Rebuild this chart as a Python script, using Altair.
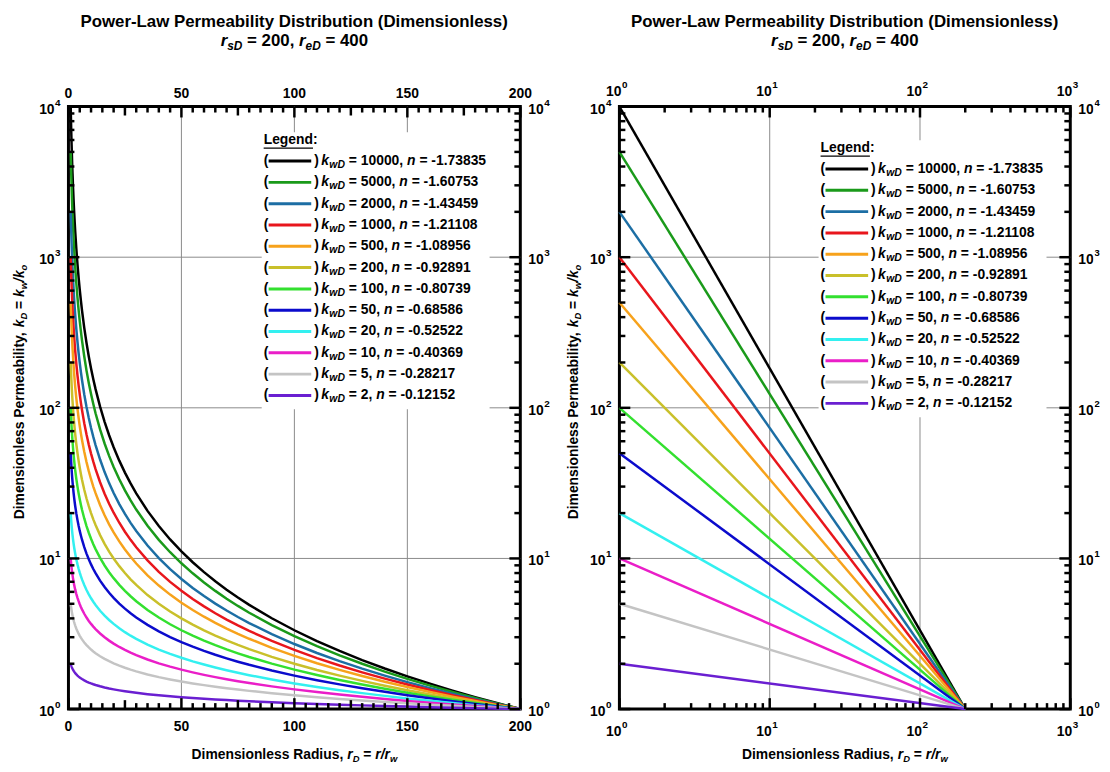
import altair as alt
import pandas as pd
import math

FONT = "Liberation Sans"

# ---------------- data ----------------
r_sd = 200
r_ed = 400
k_wd = [10000, 5000, 2000, 1000, 500, 200, 100, 50, 20, 10, 5, 2]
n_text = ["-1.73835", "-1.60753", "-1.43459", "-1.21108", "-1.08956", "-0.92891",
          "-0.80739", "-0.68586", "-0.52522", "-0.40369", "-0.28217", "-0.12152"]
line_colors = ["#000000", "#1a9a1a", "#1c6ea4", "#e8161c", "#f7a21b", "#c9c02a",
               "#33e02f", "#0b0bcc", "#33f0f0", "#ea1ec8", "#c4c4c4", "#6a1fd1"]
# sampled radii for the linear-x panel
r_left = [1, 1.02, 1.05, 1.1, 1.15, 1.2, 1.3, 1.4, 1.5, 1.65, 1.8, 2, 2.25, 2.5, 2.75, 3,
          3.5, 4, 4.5, 5, 5.5, 6, 7, 8, 9, 10, 11, 12, 14, 16, 18, 20, 22.5, 25, 27.5, 30,
          35, 40, 45, 50, 55, 60, 65, 70, 75, 80, 90, 100, 110, 120, 130, 140, 150, 160,
          170, 180, 190, 200]
# endpoints of every series (r=1 -> k_wD, r=r_sD -> 1)
r_right = [1, r_sd]

x_lin_labels = [0, 50, 100, 150, 200]
x_lin_mid = [25, 75, 125, 175]
x_lin_minor = [v for v in range(5, 200, 5) if v % 25]
grid_x_left = [50, 100, 150]
grid_x_right = [10, 100]
grid_y = [10, 100, 1000]
y_exponents = [0, 1, 2, 3, 4]
x_exponents = [0, 1, 2, 3]
minor_mult = [2, 3, 4, 5, 6, 7, 8, 9]

series = [str(k) for k in k_wd]
color_scale = alt.Scale(domain=series, range=line_colors)

W1, W2, H = 456, 455, 608
LFS = 14      # legend font size
LSFS = 10.5   # legend subscript size
TFS = 14      # "10" tick label size
EFS = 10      # exponent size
AFS = 14      # axis title size
ASFS = 9.5    # axis title subscript size

# Arial/Liberation Sans Bold advance widths (em)
CW = {' ': .278, ',': .278, '.': .278, '=': .584, '-': .333, '/': .278, '(': .333, ')': .333,
      ':': .333, 'a': .556, 'b': .611, 'c': .556, 'd': .611, 'e': .556, 'f': .333, 'g': .611,
      'h': .611, 'i': .278, 'k': .556, 'l': .278, 'm': .889, 'n': .611, 'o': .611, 'p': .611,
      'r': .389, 's': .556, 't': .333, 'u': .611, 'w': .778, 'y': .556, 'D': .722, 'L': .611,
      'P': .667, 'R': .722}
for d in "0123456789":
    CW[d] = .556


def tw(s, fs):
    return sum(CW.get(c, .556) for c in s) * fs


def compose(segs, cx, cy, rotated=False, anchor="center"):
    total = sum(tw(t, fs) for t, fs, it, dy in segs)
    items = []
    off = 0.0
    for t, fs, it, dy in segs:
        lead = len(t) - len(t.lstrip(' '))
        shown = t.strip(' ')
        o = off + lead * CW[' '] * fs
        start = -total / 2 if anchor == "center" else 0
        if rotated:
            items.append(dict(px=cx + dy, py=cy - start - o, text=shown, fs=fs,
                              italic=it, align="left", angle=270))
        else:
            items.append(dict(px=cx + start + o, py=cy + dy, text=shown, fs=fs,
                              italic=it, align="left", angle=0))
        off += tw(t, fs)
    return items


def ident_x(W):
    return alt.Scale(domain=[0, W], nice=False, zero=False)


def ident_y():
    return alt.Scale(domain=[0, H], nice=False, zero=False)


def text_layers(items, W):
    df = pd.DataFrame(items)
    df["pyf"] = H - df["py"]
    df["text"] = df["text"].astype(str)
    layers = []
    for (italic, align), sub in df.groupby(["italic", "align"]):
        layers.append(
            alt.Chart(sub).mark_text(font=FONT, fontWeight="bold",
                                     fontStyle="italic" if italic else "normal",
                                     align=align, baseline="middle", color="black")
            .encode(x=alt.X("px:Q", scale=ident_x(W), axis=None),
                    y=alt.Y("pyf:Q", scale=ident_y(), axis=None),
                    text="text:N",
                    size=alt.Size("fs:Q", scale=None),
                    angle=alt.Angle("angle:Q", scale=None)))
    return layers


def vticks(vals, sx, length):
    df = pd.DataFrame({"v": vals})
    base = alt.Chart(df).mark_rule(color="black", strokeWidth=2.5)
    return [base.encode(x=alt.X("v:Q", scale=sx, axis=None), y=alt.value(H), y2=alt.value(H - length)),
            base.encode(x=alt.X("v:Q", scale=sx, axis=None), y=alt.value(0), y2=alt.value(length))]


def hticks(vals, sy, length, W):
    df = pd.DataFrame({"v": vals})
    base = alt.Chart(df).mark_rule(color="black", strokeWidth=2.5)
    return [base.encode(y=alt.Y("v:Q", scale=sy, axis=None), x=alt.value(0), x2=alt.value(length)),
            base.encode(y=alt.Y("v:Q", scale=sy, axis=None), x=alt.value(W), x2=alt.value(W - length))]


def legend_parts(x0, r0, W):
    items = []
    dy = 21.5
    items += compose([("Legend", LFS, False, 0), (":", LFS, False, 0)], x0, r0 - dy, anchor="left")
    rows = []
    for i, (k, n) in enumerate(zip(k_wd, n_text)):
        y = r0 + i * dy
        items.append(dict(px=x0, py=y, text="(", fs=LFS, italic=False, align="left", angle=0))
        items.append(dict(px=x0 + 51, py=y, text=")", fs=LFS, italic=False, align="left", angle=0))
        xk = x0 + 58
        items.append(dict(px=xk, py=y, text="k", fs=LFS, italic=True, align="left", angle=0))
        xs = xk + tw("k", LFS) + 0.5
        items.append(dict(px=xs, py=y + 4, text="wD", fs=LSFS, italic=True, align="left", angle=0))
        xb = xs + tw("wD", LSFS)
        items.append(dict(px=xb + tw(" ", LFS), py=y, text=f"= {k},", fs=LFS, italic=False, align="left", angle=0))
        xn = xb + tw(f" = {k}, ", LFS)
        items.append(dict(px=xn, py=y, text="n", fs=LFS, italic=True, align="left", angle=0))
        items.append(dict(px=xn + tw("n ", LFS), py=y, text=f"= {n}", fs=LFS, italic=False, align="left", angle=0))
        rows.append(dict(a=x0 + 5, b=x0 + 48, pyf=H - y, series=str(k)))
    last = r0 + (len(k_wd) - 1) * dy
    box = alt.Chart(pd.DataFrame({"d": [0]})).mark_rect(fill="white").encode(
        x=alt.value(x0 - 2), x2=alt.value(x0 + 228), y=alt.value(r0 - 29), y2=alt.value(last + 14))
    under = alt.Chart(pd.DataFrame({"d": [0]})).mark_rule(color="black", strokeWidth=1.3).encode(
        x=alt.value(x0), x2=alt.value(x0 + tw("Legend", LFS)), y=alt.value(r0 - dy + 8.5))
    samples = alt.Chart(pd.DataFrame(rows)).mark_rule(strokeWidth=3).encode(
        x=alt.X("a:Q", scale=ident_x(W), axis=None), x2="b:Q",
        y=alt.Y("pyf:Q", scale=ident_y(), axis=None),
        color=alt.Color("series:N", scale=color_scale, legend=None))
    return box, [under, samples], items


def common_texts(W, cx_ytitle):
    items = []
    items += compose([("Power-Law Permeability Distribution (Dimensionless)", 17, False, 0)], W / 2, -85)
    items += compose([("r", 17, True, 0), ("sD", 12, True, 5), (f" = {r_sd}, ", 17, False, 0),
                      ("r", 17, True, 0), ("eD", 12, True, 5), (f" = {r_ed}", 17, False, 0)], W / 2, -66)
    items += compose([("Dimensionless Radius, ", AFS, False, 0), ("r", AFS, True, 0), ("D", ASFS, True, 4),
                      (" = ", AFS, False, 0), ("r/r", AFS, True, 0), ("w", ASFS, True, 4)], W / 2, 654)
    items += compose([("Dimensionless Permeability, ", AFS, False, 0), ("k", AFS, True, 0), ("D", ASFS, True, 4),
                      (" = ", AFS, False, 0), ("k", AFS, True, 0), ("w", ASFS, True, 4), ("/", AFS, True, 0),
                      ("k", AFS, True, 0), ("o", ASFS, True, 4)], cx_ytitle, 288, rotated=True)
    # y tick labels (both sides)
    for e in y_exponents:
        yp = H - e / 4 * H
        items.append(dict(px=-14, py=yp + 3, text="10", fs=TFS, italic=False, align="right", angle=0))
        items.append(dict(px=-13.5, py=yp - 4, text=str(e), fs=EFS, italic=False, align="left", angle=0))
        items.append(dict(px=W + 8, py=yp + 3, text="10", fs=TFS, italic=False, align="left", angle=0))
        items.append(dict(px=W + 8.5 + tw("10", TFS), py=yp - 4, text=str(e), fs=EFS, italic=False, align="left", angle=0))
    return items


def marker(xpos):
    return alt.Chart(pd.DataFrame({"d": [0]})).mark_rule(color="white", strokeWidth=1).encode(
        x=alt.value(xpos), y=alt.value(-93), y2=alt.value(H + 55))


sy = alt.Scale(type="log", domain=[1, 10000], nice=False)
y_minor = [m * 10 ** e for e in range(4) for m in minor_mult]

# ---------------- left panel (linear x) ----------------
sx1 = alt.Scale(type="linear", domain=[0, 200], nice=False, zero=False)
rows = []
for k in k_wd:
    n_fit = -math.log(k) / math.log(r_sd)
    for r in r_left:
        rows.append(dict(series=str(k), r=r, k=k * r ** n_fit))
df_left = pd.DataFrame(rows)

grid1 = [
    alt.Chart(pd.DataFrame({"v": grid_x_left})).mark_rule(color="#8a8a8a", strokeWidth=1).encode(
        x=alt.X("v:Q", scale=sx1, axis=None), y=alt.value(0), y2=alt.value(H)),
    alt.Chart(pd.DataFrame({"v": grid_y})).mark_rule(color="#8a8a8a", strokeWidth=1).encode(
        y=alt.Y("v:Q", scale=sy, axis=None), x=alt.value(0), x2=alt.value(W1)),
]
box1, leg1, leg_items1 = legend_parts(197, 55, W1)
curves1 = alt.Chart(df_left).mark_line(strokeWidth=2.5).encode(
    x=alt.X("r:Q", scale=sx1, axis=None), y=alt.Y("k:Q", scale=sy, axis=None),
    color=alt.Color("series:N", scale=color_scale, legend=None),
    order=alt.Order("r:Q"))
ticks1 = (vticks(x_lin_labels, sx1, 11) + vticks(x_lin_mid, sx1, 9) + vticks(x_lin_minor, sx1, 6)
          + hticks([10 ** e for e in y_exponents], sy, 11, W1) + hticks(y_minor, sy, 6, W1))
items1 = common_texts(W1, -49) + leg_items1
for v in x_lin_labels:
    xp = v / 200 * W1
    items1.append(dict(px=xp, py=626, text=str(v), fs=14, italic=False, align="center", angle=0))
    items1.append(dict(px=xp, py=-13, text=str(v), fs=14, italic=False, align="center", angle=0))

left = alt.layer(*grid1, box1, curves1, *ticks1, *leg1, *text_layers(items1, W1), marker(-59)).properties(
    width=W1, height=H).resolve_scale(x="independent", y="independent")

# ---------------- right panel (log x) ----------------
sx2 = alt.Scale(type="log", domain=[1, 1000], nice=False)
rows = []
for k in k_wd:
    rows.append(dict(series=str(k), r=r_right[0], k=k))
    rows.append(dict(series=str(k), r=r_right[1], k=1))
df_right = pd.DataFrame(rows)
x_minor = [m * 10 ** e for e in range(3) for m in minor_mult]

grid2 = [
    alt.Chart(pd.DataFrame({"v": grid_x_right})).mark_rule(color="#8a8a8a", strokeWidth=1).encode(
        x=alt.X("v:Q", scale=sx2, axis=None), y=alt.value(0), y2=alt.value(H)),
    alt.Chart(pd.DataFrame({"v": grid_y})).mark_rule(color="#8a8a8a", strokeWidth=1).encode(
        y=alt.Y("v:Q", scale=sy, axis=None), x=alt.value(0), x2=alt.value(W2)),
]
box2, leg2, leg_items2 = legend_parts(203, 63, W2)
curves2 = alt.Chart(df_right).mark_line(strokeWidth=2.5).encode(
    x=alt.X("r:Q", scale=sx2, axis=None), y=alt.Y("k:Q", scale=sy, axis=None),
    color=alt.Color("series:N", scale=color_scale, legend=None),
    order=alt.Order("r:Q"))
ticks2 = (vticks([10 ** e for e in x_exponents], sx2, 11) + vticks(x_minor, sx2, 6)
          + hticks([10 ** e for e in y_exponents], sy, 11, W2) + hticks(y_minor, sy, 6, W2))
items2 = common_texts(W2, -46) + leg_items2
for e in x_exponents:
    xp = e / 3 * W2
    for py10, pye in ((631, 624), (-15, -22)):
        items2.append(dict(px=xp + 2, py=py10, text="10", fs=TFS, italic=False, align="right", angle=0))
        items2.append(dict(px=xp + 2.5, py=pye, text=str(e), fs=EFS, italic=False, align="left", angle=0))

right = alt.layer(*grid2, box2, curves2, *ticks2, *leg2, *text_layers(items2, W2), marker(W2 + 24)).properties(
    width=W2, height=H).resolve_scale(x="independent", y="independent")

chart = alt.hconcat(left, right, spacing=100, bounds="flush").properties(
    padding=0).configure_view(stroke="black", strokeWidth=3)

chart.save("out.html", embed_options={"renderer": "svg", "actions": False})
